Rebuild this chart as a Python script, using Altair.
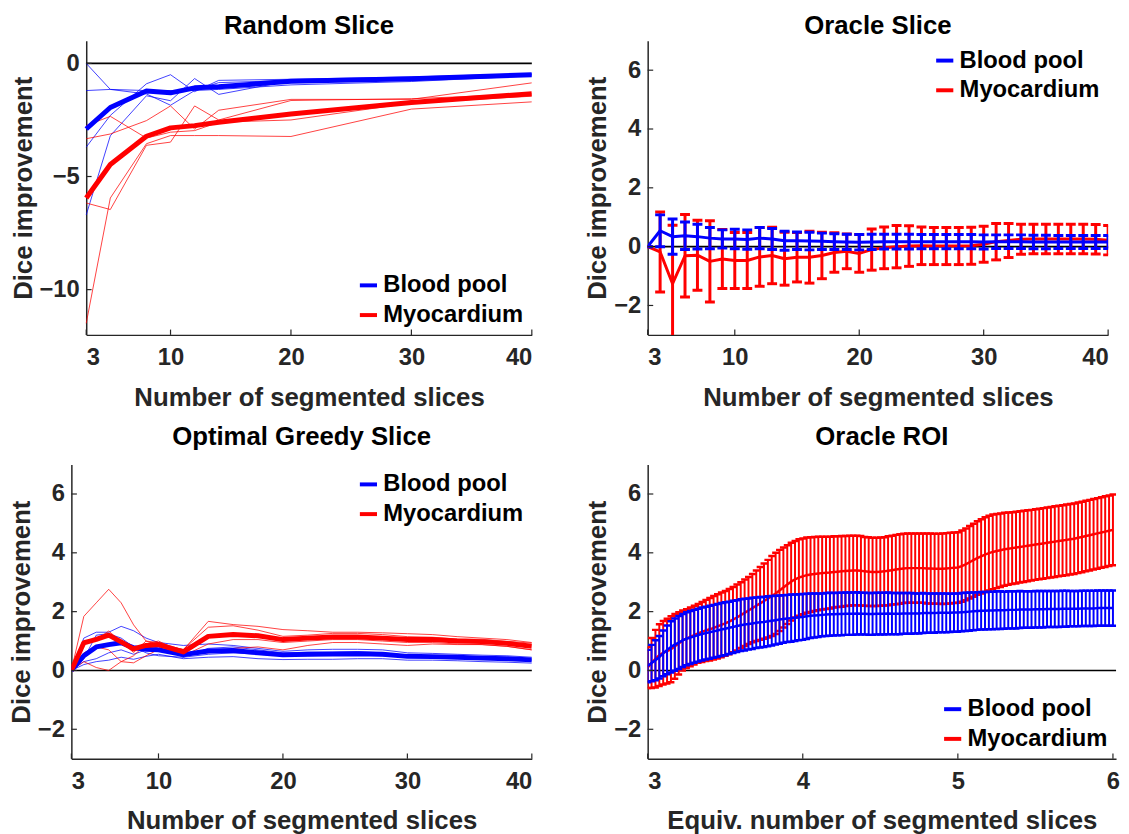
import altair as alt
import pandas as pd

FONT = "Liberation Sans"
BLUE = "#0000ff"
RED = "#ff0000"
AXIS_C = "#262626"
SERIES = ["Blood pool", "Myocardium"]

# ---------------- Random Slice ----------------
rs_x = [3, 5, 8, 10, 12, 14, 20, 30, 40]
rs_blood_mean = [-2.9, -1.95, -1.22, -1.3, -1.08, -1.03, -0.79, -0.68, -0.5]
rs_myo_mean = [-5.95, -4.47, -3.22, -2.85, -2.75, -2.6, -2.24, -1.73, -1.34]
rs_blood_runs = [
    [0.0, -1.15, -1.35, -1.85, -1.2, -0.85, -0.75, -0.7, -0.5],
    [-1.2, -1.15, -1.2, -1.2, -1.2, -1.15, -0.95, -0.8, -0.55],
    [-3.7, -2.3, -0.9, -0.5, -1.25, -0.75, -0.7, -0.6, -0.45],
    [-6.7, -3.2, -1.43, -1.65, -0.67, -1.37, -0.76, -0.62, -0.5],
]
rs_myo_runs = [
    [-2.75, -2.34, -3.3, -3.04, -2.97, -2.6, -2.5, -1.75, -1.45],
    [-3.33, -3.12, -2.53, -1.88, -2.9, -2.07, -1.59, -1.59, -0.86],
    [-6.17, -6.46, -3.62, -3.48, -1.88, -2.5, -1.64, -1.56, -1.35],
    [-11.49, -5.95, -3.55, -3.19, -3.19, -3.19, -3.23, -2.02, -1.7],
]

# ---------------- Oracle Slice ----------------
os_x = list(range(3, 41))
os_blood_mean = [0, 0.54, 0.34, 0.37, 0.34, 0.29, 0.26, 0.26, 0.24, 0.29, 0.26, 0.2, 0.2,
                 0.19, 0.18, 0.17, 0.16, 0.15, 0.16, 0.17, 0.17, 0.17, 0.17, 0.17, 0.17,
                 0.17, 0.17, 0.16, 0.17, 0.17, 0.17, 0.16, 0.16, 0.16, 0.16, 0.16, 0.16, 0.16]
os_blood_err = [0, 0.54, 0.6, 0.47, 0.42, 0.36, 0.31, 0.33, 0.33, 0.36, 0.36, 0.32, 0.3,
                0.3, 0.28, 0.27, 0.26, 0.26, 0.26, 0.25, 0.25, 0.25, 0.24, 0.24, 0.24,
                0.24, 0.24, 0.24, 0.23, 0.23, 0.23, 0.23, 0.23, 0.22, 0.22, 0.22, 0.22, 0.22]
os_myo_mean = [0, -0.18, -1.26, -0.31, -0.29, -0.5, -0.42, -0.47, -0.47, -0.35, -0.3, -0.41,
               -0.36, -0.36, -0.3, -0.2, -0.16, -0.23, -0.1, -0.04, 0.0, 0.02, 0.03, 0.02,
               0.02, 0.02, 0.03, 0.08, 0.17, 0.21, 0.25, 0.26, 0.26, 0.26, 0.26, 0.26, 0.25, 0.22]
os_myo_err = [0, 1.36, 1.99, 1.4, 1.19, 1.38, 1.0, 0.95, 0.95, 1.0, 0.96, 0.9, 0.84, 0.88,
              0.79, 0.67, 0.59, 0.64, 0.7, 0.71, 0.72, 0.69, 0.64, 0.63, 0.63, 0.63, 0.63,
              0.61, 0.62, 0.58, 0.51, 0.5, 0.5, 0.5, 0.5, 0.5, 0.5, 0.5]

# ---------------- Optimal Greedy Slice ----------------
og_x = [3, 4, 5, 6, 7, 8, 9, 10, 12, 14, 16, 18, 20, 22, 24, 26, 28, 30, 32, 34, 36, 38, 40]
og_blood_mean = [0, 0.5, 0.8, 0.88, 0.94, 0.77, 0.72, 0.7, 0.54, 0.66, 0.68, 0.6, 0.53, 0.55,
                 0.56, 0.57, 0.55, 0.48, 0.47, 0.45, 0.42, 0.4, 0.36]
og_myo_mean = [0, 0.94, 1.06, 1.2, 0.97, 0.73, 0.85, 0.88, 0.63, 1.16, 1.22, 1.18, 1.05, 1.1,
               1.14, 1.14, 1.1, 1.05, 1.05, 1.0, 0.98, 0.92, 0.82]
og_blood_runs = [
    [0, 1.1, 1.3, 1.3, 1.5, 1.35, 1.1, 0.95, 0.85, 0.9, 0.85, 0.75, 0.65, 0.7, 0.72, 0.72, 0.7, 0.6, 0.58, 0.55, 0.52, 0.5, 0.45],
    [0, 0.4, 1.2, 1.25, 1.1, 0.8, 0.6, 0.5, 0.45, 0.75, 0.8, 0.7, 0.6, 0.62, 0.62, 0.64, 0.6, 0.52, 0.5, 0.48, 0.45, 0.42, 0.38],
    [0, 0.3, 0.4, 0.6, 0.7, 0.55, 0.7, 0.8, 0.45, 0.55, 0.6, 0.55, 0.5, 0.5, 0.52, 0.52, 0.5, 0.45, 0.45, 0.42, 0.4, 0.38, 0.33],
    [0, 0.2, 0.3, 0.35, 0.45, 0.38, 0.48, 0.55, 0.4, 0.45, 0.47, 0.4, 0.37, 0.38, 0.38, 0.4, 0.4, 0.35, 0.35, 0.33, 0.3, 0.28, 0.25],
]
og_myo_runs = [
    [0, 1.84, 2.3, 2.76, 2.3, 1.55, 1.0, 0.95, 0.7, 1.67, 1.56, 1.5, 1.39, 1.35, 1.3, 1.3, 1.28, 1.25, 1.22, 1.15, 1.1, 1.05, 0.95],
    [0, 0.3, 0.1, 0.0, 0.3, 0.5, 0.9, 1.0, 0.6, 0.6, 0.75, 0.8, 0.7, 0.85, 0.95, 0.95, 0.9, 0.85, 0.9, 0.88, 0.88, 0.82, 0.7],
    [0, 0.6, 0.8, 0.7, 0.3, 0.26, 0.5, 0.71, 0.5, 0.9, 1.05, 1.05, 0.95, 1.0, 1.05, 1.05, 1.0, 0.95, 0.95, 0.9, 0.88, 0.82, 0.7],
    [0, 1.02, 1.04, 1.34, 0.98, 0.61, 1.0, 0.86, 0.72, 1.47, 1.52, 1.37, 1.16, 1.2, 1.26, 1.26, 1.22, 1.15, 1.13, 1.07, 1.06, 0.99, 0.93],
]

# ---------------- Oracle ROI ----------------
roi_x = [round(3 + 0.025 * k, 3) for k in range(121)]
roi_blood_mean = [
    0.15, 0.25, 0.35, 0.45, 0.58, 0.70, 0.80, 0.88, 0.95, 1.02,
    1.08, 1.12, 1.16, 1.20, 1.24, 1.27, 1.30, 1.33, 1.36, 1.39,
    1.42, 1.45, 1.48, 1.51, 1.54, 1.56, 1.58, 1.60, 1.62, 1.64,
    1.65, 1.67, 1.69, 1.71, 1.73, 1.75, 1.77, 1.78, 1.79, 1.81,
    1.82, 1.84, 1.86, 1.87, 1.88, 1.89, 1.90, 1.91, 1.91, 1.92,
    1.92, 1.93, 1.93, 1.93, 1.94, 1.93, 1.93, 1.92, 1.92, 1.93,
    1.93, 1.93, 1.94, 1.93, 1.93, 1.93, 1.94, 1.94, 1.94, 1.94,
    1.94, 1.95, 1.95, 1.95, 1.95, 1.96, 1.96, 1.96, 1.96, 1.97,
    1.97, 1.98, 1.99, 2.00, 2.01, 2.02, 2.03, 2.03, 2.04, 2.04,
    2.05, 2.05, 2.05, 2.06, 2.06, 2.06, 2.07, 2.07, 2.07, 2.07,
    2.08, 2.08, 2.08, 2.09, 2.09, 2.09, 2.09, 2.10, 2.10, 2.10,
    2.10, 2.10, 2.11, 2.11, 2.11, 2.11, 2.12, 2.12, 2.12, 2.12,
    2.12]
roi_blood_err = [
    0.55, 0.62, 0.68, 0.72, 0.78, 0.83, 0.87, 0.89, 0.90, 0.90,
    0.90, 0.90, 0.90, 0.90, 0.90, 0.90, 0.90, 0.90, 0.90, 0.90,
    0.90, 0.89, 0.89, 0.88, 0.88, 0.88, 0.87, 0.87, 0.86, 0.86,
    0.85, 0.85, 0.84, 0.83, 0.82, 0.81, 0.80, 0.80, 0.79, 0.78,
    0.78, 0.77, 0.76, 0.75, 0.74, 0.73, 0.73, 0.73, 0.72, 0.72,
    0.72, 0.72, 0.72, 0.72, 0.72, 0.71, 0.71, 0.71, 0.71, 0.71,
    0.71, 0.71, 0.71, 0.70, 0.70, 0.70, 0.69, 0.69, 0.69, 0.68,
    0.68, 0.68, 0.67, 0.67, 0.67, 0.66, 0.66, 0.66, 0.65, 0.65,
    0.65, 0.65, 0.65, 0.65, 0.64, 0.64, 0.64, 0.64, 0.64, 0.64,
    0.64, 0.64, 0.63, 0.63, 0.63, 0.63, 0.63, 0.62, 0.62, 0.62,
    0.62, 0.62, 0.62, 0.61, 0.61, 0.61, 0.61, 0.61, 0.61, 0.60,
    0.60, 0.60, 0.60, 0.60, 0.60, 0.60, 0.60, 0.60, 0.60, 0.60,
    0.60]
roi_myo_mean = [
    0.10, 0.25, 0.40, 0.52, 0.60, 0.66, 0.72, 0.82, 0.92, 1.02,
    1.08, 1.14, 1.20, 1.26, 1.31, 1.36, 1.40, 1.45, 1.50, 1.55,
    1.60, 1.66, 1.73, 1.80, 1.88, 1.96, 2.04, 2.12, 2.20, 2.28,
    2.36, 2.44, 2.53, 2.62, 2.72, 2.82, 2.92, 3.02, 3.10, 3.16,
    3.20, 3.24, 3.26, 3.28, 3.30, 3.31, 3.32, 3.33, 3.35, 3.36,
    3.37, 3.38, 3.39, 3.40, 3.40, 3.39, 3.37, 3.36, 3.35, 3.35,
    3.36, 3.37, 3.39, 3.41, 3.43, 3.45, 3.47, 3.48, 3.48, 3.48,
    3.48, 3.48, 3.47, 3.47, 3.46, 3.46, 3.46, 3.47, 3.48, 3.49,
    3.50, 3.55, 3.61, 3.68, 3.75, 3.82, 3.88, 3.94, 3.99, 4.03,
    4.06, 4.09, 4.12, 4.14, 4.16, 4.18, 4.20, 4.22, 4.24, 4.26,
    4.28, 4.30, 4.32, 4.34, 4.36, 4.38, 4.40, 4.42, 4.44, 4.46,
    4.48, 4.51, 4.54, 4.57, 4.60, 4.63, 4.66, 4.69, 4.72, 4.75,
    4.78]
roi_myo_err = [
    0.70, 0.85, 0.98, 1.05, 1.08, 1.10, 1.12, 1.10, 1.06, 1.02,
    1.00, 1.00, 1.00, 1.00, 1.02, 1.04, 1.06, 1.08, 1.09, 1.10,
    1.10, 1.11, 1.11, 1.12, 1.12, 1.13, 1.14, 1.16, 1.20, 1.24,
    1.28, 1.32, 1.36, 1.38, 1.38, 1.36, 1.34, 1.32, 1.30, 1.30,
    1.29, 1.28, 1.27, 1.26, 1.25, 1.24, 1.23, 1.22, 1.21, 1.20,
    1.20, 1.19, 1.19, 1.18, 1.18, 1.18, 1.17, 1.17, 1.16, 1.16,
    1.16, 1.16, 1.17, 1.17, 1.18, 1.18, 1.18, 1.18, 1.18, 1.18,
    1.18, 1.18, 1.19, 1.19, 1.19, 1.19, 1.20, 1.20, 1.20, 1.20,
    1.20, 1.21, 1.22, 1.23, 1.24, 1.25, 1.26, 1.27, 1.27, 1.27,
    1.26, 1.25, 1.24, 1.23, 1.22, 1.22, 1.21, 1.21, 1.21, 1.20,
    1.20, 1.20, 1.20, 1.20, 1.20, 1.20, 1.20, 1.20, 1.20, 1.20,
    1.20, 1.20, 1.20, 1.20, 1.20, 1.20, 1.20, 1.20, 1.20, 1.20,
    1.20]

XT_SLICES = [3, 10, 20, 30, 40]
YT_STD = [-2, 0, 2, 4, 6]
XTITLE = "Number of segmented slices"

# 'inset' shifts the plotting rectangle right inside the grid cell (the Random Slice
# axes start further right than the Optimal Greedy Slice axes below them)
P1 = dict(xdom=[3, 40], ydom=[-12, 1], xticks=XT_SLICES, yticks=[-10, -5, 0], xtitle=XTITLE,
          w=465, h=297, inset=15, toff=2)
P2 = dict(xdom=[3, 40], ydom=[-3, 7], xticks=XT_SLICES, yticks=YT_STD, xtitle=XTITLE,
          w=465, h=297, inset=0, toff=2)
P3 = dict(xdom=[3, 40], ydom=[-3, 7], xticks=XT_SLICES, yticks=YT_STD, xtitle=XTITLE,
          w=465, h=297, inset=0, toff=15)
P4 = dict(xdom=[3, 6.02], ydom=[-3, 7], xticks=[3, 4, 5, 6], yticks=YT_STD,
          xtitle="Equiv. number of segmented slices", w=473, h=297, inset=0, toff=15)

CSCALE = alt.Scale(domain=SERIES, range=[BLUE, RED])


def encoders(p):
    if p["inset"]:
        xs = alt.Scale(domain=p["xdom"], nice=False, zero=False, range=[p["inset"], p["w"]])
        ya = alt.Axis(values=p["yticks"], title="Dice improvement", format="d", offset=-p["inset"])
    else:
        xs = alt.Scale(domain=p["xdom"], nice=False, zero=False)
        ya = alt.Axis(values=p["yticks"], title="Dice improvement", format="d")
    ys = alt.Scale(domain=p["ydom"], nice=False, zero=False)
    xa = alt.Axis(values=p["xticks"], title=p["xtitle"], format="d")

    def X(f):
        return alt.X(f"{f}:Q", scale=xs, axis=xa)

    def Y(f):
        return alt.Y(f"{f}:Q", scale=ys, axis=ya)
    return X, Y


def frame_layers(p, X, Y):
    """zero line (below data) and inward tick marks (above data)"""
    ymin, ymax = p["ydom"]
    xmin, xmax = p["xdom"]
    zero = (alt.Chart(pd.DataFrame({"z": [0], "a": [xmin], "b": [xmax]}))
            .mark_rule(color="black", strokeWidth=1.6)
            .encode(y=Y("z"), x=X("a"), x2=alt.X2("b")))
    ylen = 0.018 * (ymax - ymin)
    xlen = 0.012 * (xmax - xmin)
    xt = pd.DataFrame({"t": p["xticks"], "a": [ymin] * len(p["xticks"]), "b": [ymin + ylen] * len(p["xticks"])})
    yt = pd.DataFrame({"t": p["yticks"], "a": [xmin] * len(p["yticks"]), "b": [xmin + xlen] * len(p["yticks"])})
    xticks = alt.Chart(xt).mark_rule(color=AXIS_C, strokeWidth=1.2).encode(x=X("t"), y=Y("a"), y2=alt.Y2("b"))
    yticks = alt.Chart(yt).mark_rule(color=AXIS_C, strokeWidth=1.2).encode(y=Y("t"), x=X("a"), x2=alt.X2("b"))
    return zero, [xticks, yticks]


def titled(p, text):
    if p["inset"]:
        return alt.TitleParams(text, dx=p["inset"] / 2, offset=p["toff"])
    return alt.TitleParams(text, offset=p["toff"])


def line_panel(p, x, bmean, mmean, bruns, mruns, title, orient):
    X, Y = encoders(p)
    zero, ticks = frame_layers(p, X, Y)
    layers = [zero]
    for runs, col in [(bruns, BLUE), (mruns, RED)]:
        rows = []
        for i, run in enumerate(runs):
            for xx, v in zip(x, run):
                rows.append({"x": xx, "v": v, "run": i})
        layers.append(
            alt.Chart(pd.DataFrame(rows)).mark_line(color=col, strokeWidth=1, opacity=0.75, clip=True)
            .encode(x=X("x"), y=Y("v"), detail="run:N")
        )
    mdf = pd.DataFrame({"x": list(x) * 2, "v": list(bmean) + list(mmean),
                        "series": [SERIES[0]] * len(x) + [SERIES[1]] * len(x)})
    layers.append(
        alt.Chart(mdf).mark_line(strokeWidth=5, strokeJoin="round", clip=True)
        .encode(x=X("x"), y=Y("v"),
                color=alt.Color("series:N", scale=CSCALE, title=None, legend=alt.Legend(orient=orient)))
    )
    layers += ticks
    return alt.layer(*layers).properties(width=p["w"], height=p["h"], title=titled(p, title))


def err_panel(p, x, bmean, berr, mmean, merr, title, orient, bar_w, cap_size, cap_w, line_w):
    X, Y = encoders(p)
    zero, ticks = frame_layers(p, X, Y)
    layers = [zero]
    for name, mean, err, col in [(SERIES[1], mmean, merr, RED), (SERIES[0], bmean, berr, BLUE)]:
        df = pd.DataFrame({
            "x": x, "m": mean,
            "lo": [round(a - b, 3) for a, b in zip(mean, err)],
            "hi": [round(a + b, 3) for a, b in zip(mean, err)],
            "series": [name] * len(x),
        })
        base = alt.Chart(df)
        layers += [
            base.mark_rule(color=col, strokeWidth=bar_w, clip=True).encode(x=X("x"), y=Y("lo"), y2=alt.Y2("hi")),
            base.mark_tick(color=col, orient="horizontal", size=cap_size, thickness=cap_w, opacity=1, clip=True)
            .encode(x=X("x"), y=Y("lo")),
            base.mark_tick(color=col, orient="horizontal", size=cap_size, thickness=cap_w, opacity=1, clip=True)
            .encode(x=X("x"), y=Y("hi")),
            base.mark_line(strokeWidth=line_w, strokeJoin="round", clip=True)
            .encode(x=X("x"), y=Y("m"),
                    color=alt.Color("series:N", scale=CSCALE, title=None, legend=alt.Legend(orient=orient))),
        ]
    layers += ticks
    return alt.layer(*layers).properties(width=p["w"], height=p["h"], title=titled(p, title))


p1 = line_panel(P1, rs_x, rs_blood_mean, rs_myo_mean, rs_blood_runs, rs_myo_runs, "Random Slice", "bottom-right")
p2 = err_panel(P2, os_x, os_blood_mean, os_blood_err, os_myo_mean, os_myo_err, "Oracle Slice", "top-right",
               bar_w=3, cap_size=10, cap_w=3, line_w=3)
p3 = line_panel(P3, og_x, og_blood_mean, og_myo_mean, og_blood_runs, og_myo_runs, "Optimal Greedy Slice", "top-right")
p4 = err_panel(P4, roi_x, roi_blood_mean, roi_blood_err, roi_myo_mean, roi_myo_err, "Oracle ROI", "bottom-right",
               bar_w=2, cap_size=7, cap_w=2.5, line_w=2.5)

chart = (
    alt.concat(p1, p2, p3, p4, columns=2, spacing={"row": 12, "column": 51})
    .resolve_scale(color="independent")
    .properties(padding=0)
    .configure_view(stroke="transparent")
    .configure_axis(
        domainColor=AXIS_C, domainWidth=1.5, grid=False, ticks=False,
        labelFont=FONT, labelFontSize=24, labelFontWeight="bold", labelColor=AXIS_C,
        titleFont=FONT, titleFontSize=26, titleFontWeight="bold", titleColor=AXIS_C,
    )
    .configure_axisX(labelPadding=11, titlePadding=15)
    .configure_axisY(labelPadding=7, titlePadding=3)
    .configure_title(font=FONT, fontSize=26, fontWeight="bold", color="black", anchor="middle")
    .configure_legend(
        labelFont=FONT, labelFontSize=24, labelFontWeight="bold", labelColor="black",
        symbolType="stroke", symbolStrokeWidth=4, symbolSize=300, labelOffset=3,
        rowPadding=6, padding=0, offset=8,
    )
)

chart.save("out.html", embed_options={"renderer": "svg", "actions": False})
